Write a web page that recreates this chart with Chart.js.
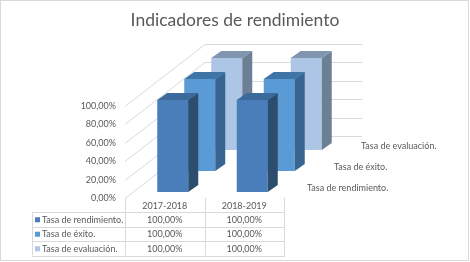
<!DOCTYPE html>
<html>
<head>
<meta charset="utf-8">
<script src="https://cdn.jsdelivr.net/npm/chart.js@4.4.0/dist/chart.umd.min.js"></script>
<style>
  html, body { margin: 0; padding: 0; background: #fff; }
</style>
</head>
<body>
<canvas id="chart" width="470" height="262"></canvas>
<script>
const categories = ['2017-2018', '2018-2019'];
const seriesNames = ['Tasa de rendimiento.', 'Tasa de éxito.', 'Tasa de evaluación.'];
const rendimiento = [100, 100];
const exito = [100, 100];
const evaluacion = [100, 100];

const fronts = ['#4a7ebb', '#5b9bd5', '#adc6e6'];
const sides = ['#2c4d6d', '#386491', '#6d7f94'];
const tops = ['#3c6a9c', '#3f74a6', '#7f95b0'];

// fake 3D: each series sits one row deeper
const ROW_DX = 27, ROW_DY = -21;
const FRONT_DX = 8, FRONT_DY = -6;
const BAR_DX = 10, BAR_DY = -7;
const WALL_DX = 80, WALL_DY = -62;
const FONT = 'Lato, "Open Sans", sans-serif';
const TEXT = '#595959';

const fmt = v => v.toFixed(2).replace('.', ',') + '%';

function poly(ctx, pts) {
    ctx.beginPath();
    ctx.moveTo(pts[0][0], pts[0][1]);
    for (let k = 1; k < pts.length; k++) ctx.lineTo(pts[k][0], pts[k][1]);
    ctx.closePath();
    ctx.fill();
}

const threeD = {
    id: 'threeD',
    beforeDatasetsDraw(chart) {
        const {ctx, chartArea: a, scales: {y}} = chart;
        ctx.save();
        ctx.strokeStyle = '#d9d9d9';
        ctx.lineWidth = 1;
        y.ticks.forEach(t => {
            const py = Math.round(y.getPixelForValue(t.value)) + 0.5;
            ctx.beginPath();
            ctx.moveTo(a.left, py);
            ctx.lineTo(a.left + WALL_DX, py + WALL_DY);
            ctx.lineTo(a.right + WALL_DX - 2, py + WALL_DY);
            ctx.stroke();
        });
        ctx.restore();
    },
    beforeDatasetDraw(chart, args) {
        const i = args.index;
        chart.ctx.save();
        chart.ctx.translate(FRONT_DX + ROW_DX * i, FRONT_DY + ROW_DY * i);
    },
    afterDatasetDraw(chart, args) {
        const ctx = chart.ctx, i = args.index;
        args.meta.data.forEach(el => {
            const {x, y, base, width} = el.getProps(['x', 'y', 'base', 'width'], true);
            const l = x - width / 2, r = x + width / 2;
            ctx.fillStyle = sides[i];
            poly(ctx, [[r, y], [r + BAR_DX, y + BAR_DY], [r + BAR_DX, base + BAR_DY], [r, base]]);
            ctx.fillStyle = tops[i];
            poly(ctx, [[l, y], [l + BAR_DX, y + BAR_DY], [r + BAR_DX, y + BAR_DY], [r, y]]);
        });
        ctx.restore();
    },
    afterDraw(chart) {
        const {ctx, chartArea: a, scales: {x, y}} = chart;
        ctx.save();
        ctx.fillStyle = TEXT;

        // title
        ctx.font = '17.5px ' + FONT;
        ctx.textAlign = 'center';
        ctx.textBaseline = 'alphabetic';
        ctx.fillText('Indicadores de rendimiento', chart.width / 2, 26);

        // value axis labels
        ctx.font = '9px ' + FONT;
        ctx.textAlign = 'right';
        ctx.textBaseline = 'middle';
        y.ticks.forEach(t => ctx.fillText(fmt(t.value), a.left - 9, y.getPixelForValue(t.value)));

        // depth axis labels
        ctx.textAlign = 'left';
        seriesNames.forEach((n, i) => {
            ctx.fillText(n, a.right + FRONT_DX + ROW_DX * i + 15, a.bottom + FRONT_DY + ROW_DY * i - 4);
        });

        // data table
        const centers = categories.map((c, j) => x.getPixelForValue(j));
        const edges = [a.left];
        for (let j = 1; j < centers.length; j++) edges.push((centers[j - 1] + centers[j]) / 2);
        edges.push(a.right);
        const tLeft = a.left - 93;
        const headH = 14, rowH = 14.5;
        const rowsTop = a.bottom + headH;
        const tBottom = rowsTop + rowH * seriesNames.length;

        ctx.strokeStyle = '#d9d9d9';
        ctx.lineWidth = 1;
        ctx.beginPath();
        edges.forEach(e => {
            const px = Math.round(e) + 0.5;
            ctx.moveTo(px, a.bottom);
            ctx.lineTo(px, tBottom);
        });
        ctx.moveTo(tLeft + 0.5, rowsTop);
        ctx.lineTo(tLeft + 0.5, tBottom);
        for (let r = 0; r <= seriesNames.length; r++) {
            const py = Math.round(rowsTop + rowH * r) + 0.5;
            ctx.moveTo(tLeft, py);
            ctx.lineTo(Math.round(a.right) + 1, py);
        }
        ctx.stroke();

        ctx.textAlign = 'center';
        categories.forEach((c, j) => ctx.fillText(c, centers[j], a.bottom + headH / 2 + 1));

        const series = [rendimiento, exito, evaluacion];
        series.forEach((vals, i) => {
            const cy = rowsTop + rowH * i + rowH / 2 + 0.5;
            ctx.fillStyle = fronts[i];
            ctx.fillRect(tLeft + 3, cy - 2.5, 5, 5);
            ctx.fillStyle = TEXT;
            ctx.textAlign = 'left';
            ctx.fillText(seriesNames[i], tLeft + 10, cy);
            ctx.textAlign = 'center';
            vals.forEach((v, j) => ctx.fillText(fmt(v), centers[j], cy));
        });

        // chart border
        ctx.strokeStyle = '#d9d9d9';
        ctx.strokeRect(0.5, 0.5, chart.width - 2, chart.height - 2);
        ctx.restore();
    }
};

const ctx = document.getElementById('chart').getContext('2d');
const chart = new Chart(ctx, {
    type: 'bar',
    data: {
        labels: categories,
        datasets: [rendimiento, exito, evaluacion].map((vals, i) => ({
            label: seriesNames[i],
            data: vals,
            backgroundColor: fronts[i],
            borderWidth: 0,
            grouped: false,
            clip: false,
            categoryPercentage: 1,
            barPercentage: 0.39
        }))
    },
    options: {
        responsive: false,
        devicePixelRatio: 1,
        animation: false,
        layout: { padding: { left: 125, right: 186, top: 106, bottom: 64 } },
        plugins: {
            legend: { display: false },
            tooltip: { enabled: false },
            title: { display: false }
        },
        scales: {
            x: { display: false, offset: true },
            y: { display: false, min: 0, max: 100, ticks: { stepSize: 20 } }
        }
    },
    plugins: [threeD]
});
</script>
</body>
</html>
